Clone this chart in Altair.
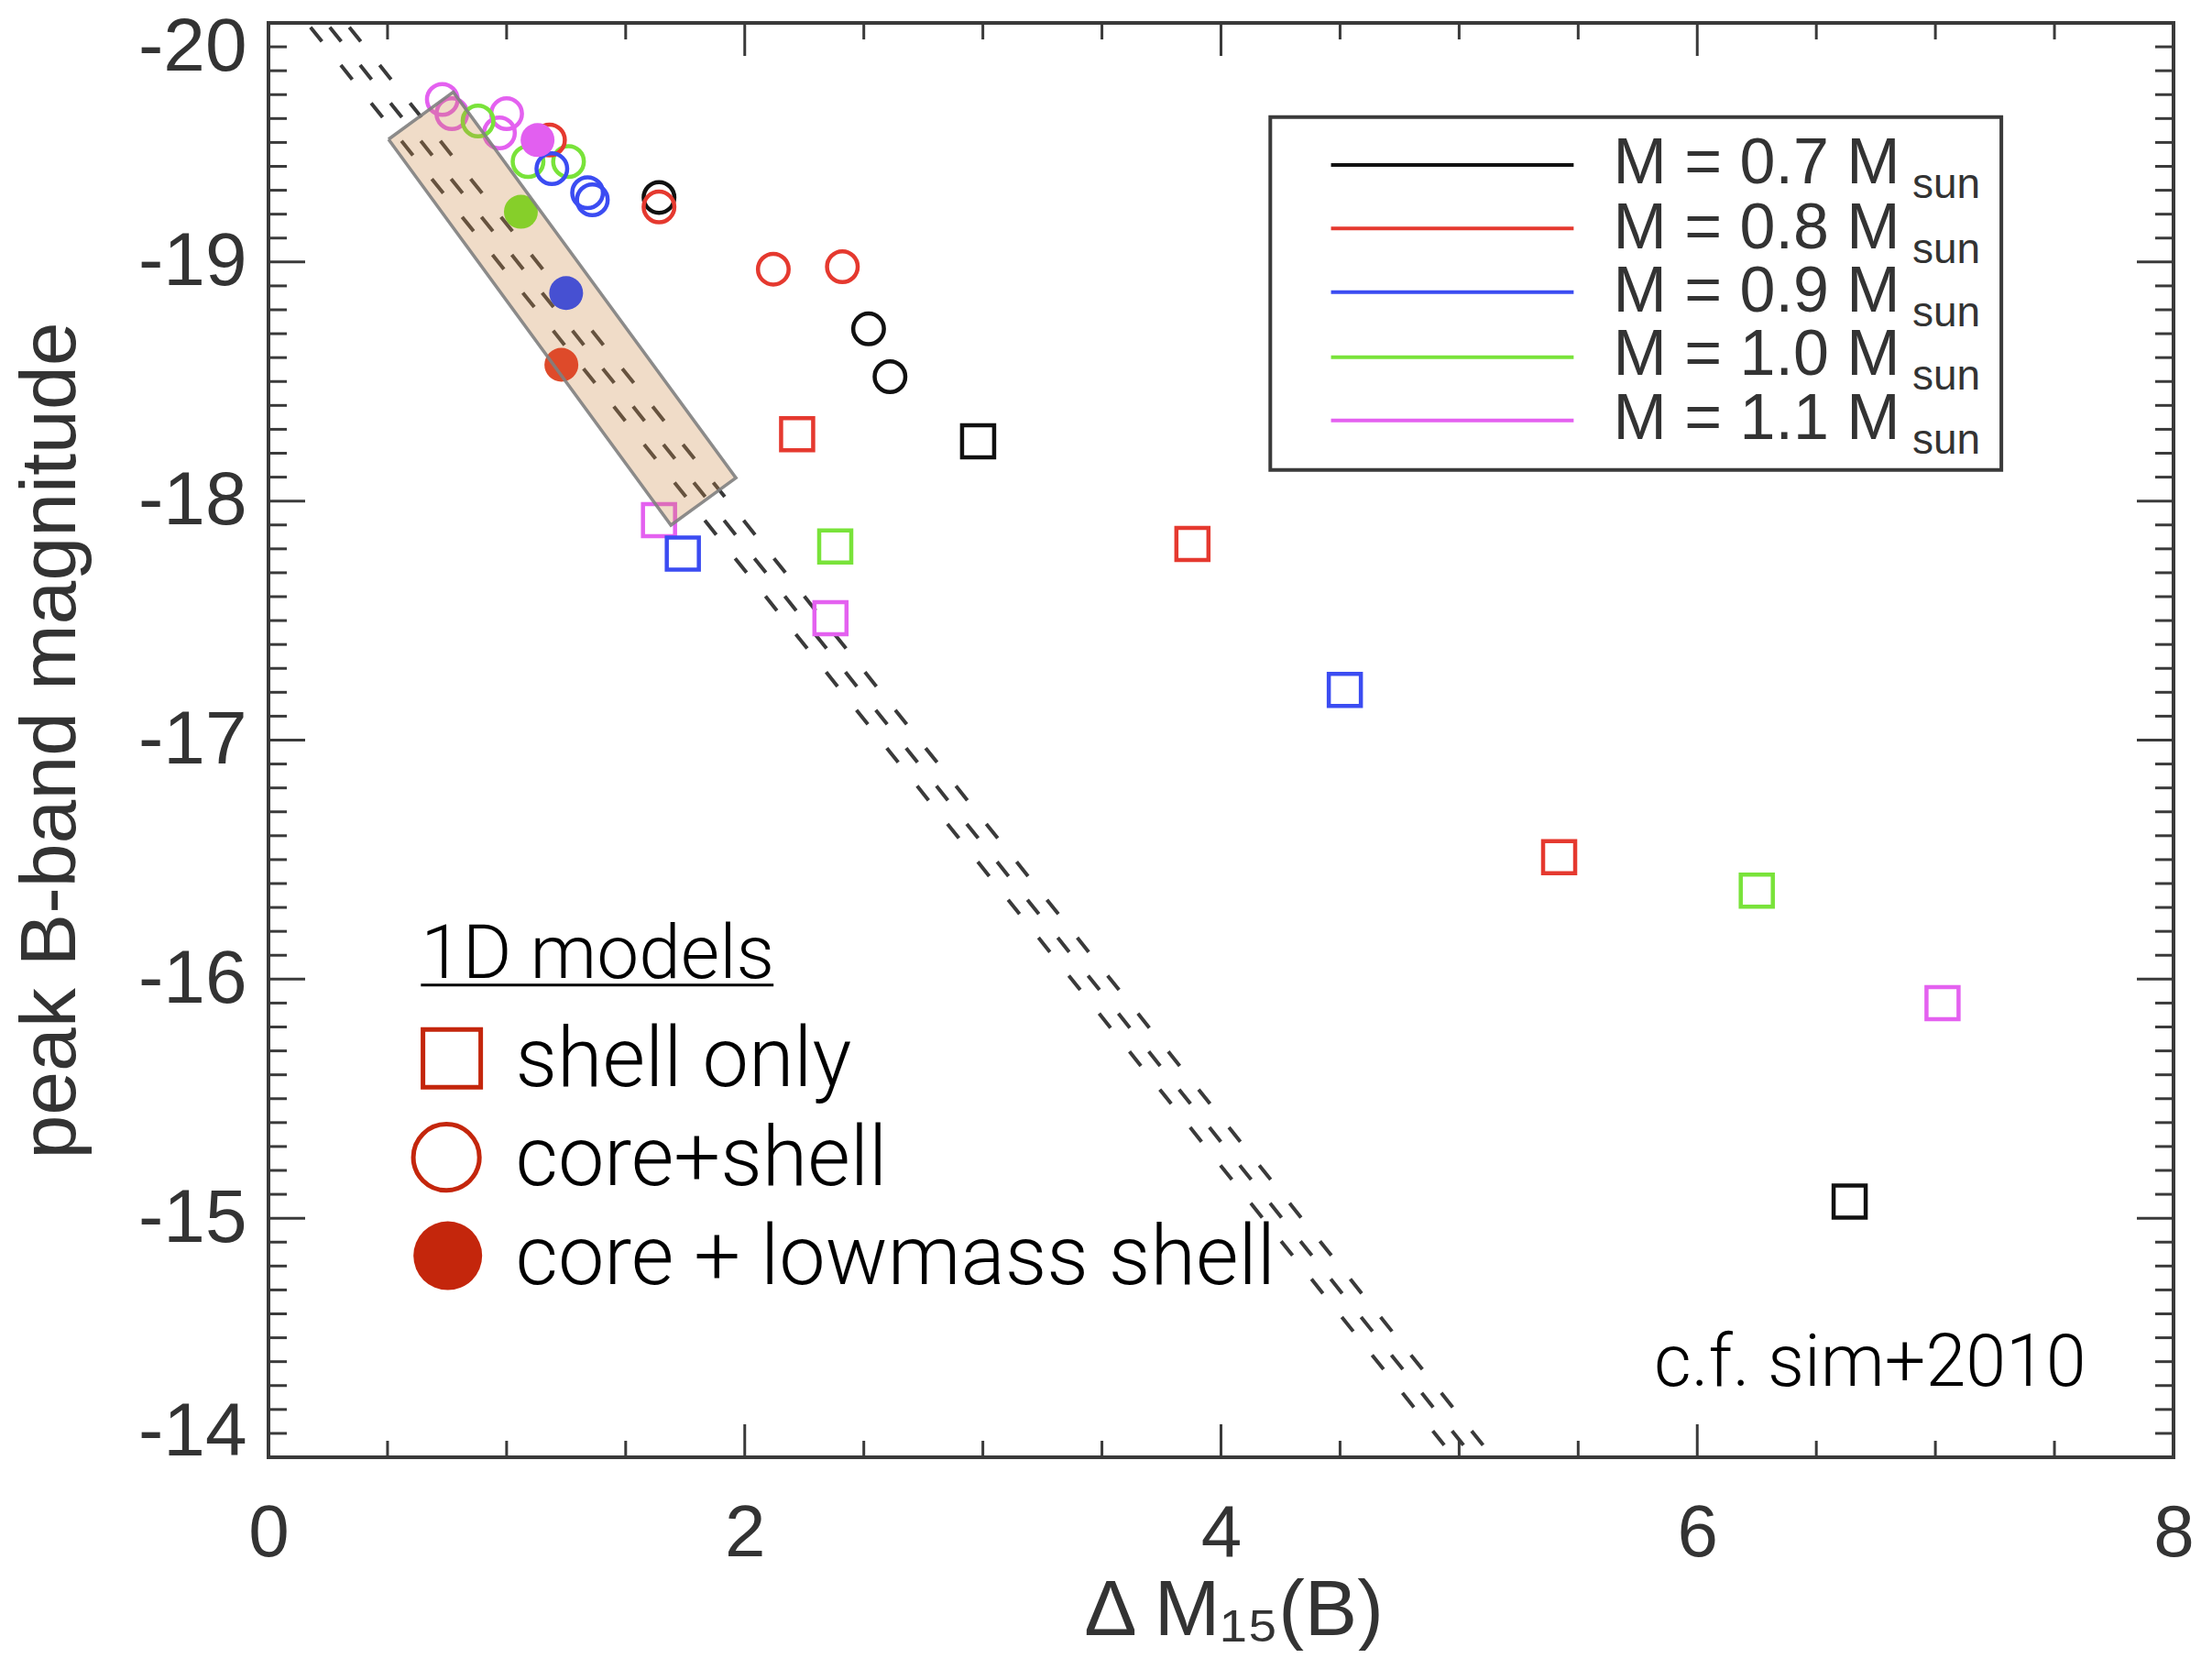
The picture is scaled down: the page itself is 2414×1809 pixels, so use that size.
import altair as alt
import pandas as pd

W, H = 2079, 1565

masses = ["0.7", "0.8", "0.9", "1.0", "1.1"]
mass_colors = ["#111111", "#e5392f", "#3b4cf2", "#79e33a", "#e461f0"]
mass_text = ["M = 0.7 M", "M = 0.8 M", "M = 0.9 M", "M = 1.0 M", "M = 1.1 M"]

# shell only models (open squares)
sq_mass = ["0.8", "0.7", "1.1", "0.9", "1.0", "1.1", "0.8", "0.9", "0.8", "1.0", "1.1", "0.7"]
sq_x = [2.22, 2.98, 1.64, 1.74, 2.38, 2.36, 3.88, 4.52, 5.42, 6.25, 7.03, 6.64]
sq_y = [-18.28, -18.25, -17.92, -17.78, -17.81, -17.51, -17.82, -17.21, -16.51, -16.37, -15.90, -15.07]

# core+shell models (open circles)
oc_mass = ["0.7", "0.7", "0.7", "1.1", "1.1", "1.1", "1.1", "1.0", "1.0", "1.0",
           "0.8", "0.8", "0.8", "0.8", "0.9", "0.9", "0.9"]
oc_x = [1.64, 2.52, 2.61, 0.73, 0.77, 1.00, 0.97, 0.88, 1.09, 1.26,
        1.18, 1.64, 2.12, 2.41, 1.19, 1.34, 1.36]
oc_y = [-19.27, -18.72, -18.52, -19.68, -19.62, -19.62, -19.54, -19.59, -19.42, -19.42,
        -19.51, -19.23, -18.97, -18.98, -19.39, -19.29, -19.26]

# core + lowmass shell models (filled circles)
fc_mass = ["1.1", "1.0", "0.9", "0.8"]
fc_x = [1.13, 1.06, 1.25, 1.23]
fc_y = [-19.51, -19.21, -18.87, -18.57]
fc_colors = ["#e25ff0", "#86cf2a", "#4650d2", "#de4a2a"]

# axis ticks
x_major = [0, 2, 4, 6, 8]
x_minor = [0.5, 1, 1.5, 2.5, 3, 3.5, 4.5, 5, 5.5, 6.5, 7, 7.5]
y_major = [-20, -19, -18, -17, -16, -15, -14]
y_minor = [round(-20 + i / 10, 1) for i in range(1, 60) if i % 10]

# Sim+2010 relation: three parallel dashed lines
band_x_top = [0.162, 0.243, 0.325]
band_x_bottom = [4.978, 5.059, 5.141]
band_y = [-20, -14]

# shaded observed region (rotated box)
reg_x = [0.504, 0.776, 1.690, 1.963]
reg_top = [-19.513, -19.711, -18.468, -18.097]
reg_bot = [-19.513, -19.143, -17.899, -18.097]
reg_outline_x = [0.504, 0.776, 1.963, 1.690, 0.504]
reg_outline_y = [-19.513, -19.711, -18.097, -17.899, -19.513]

# legend box (mass colours)
box_x = [4.207, 7.277]
box_y = [-19.606, -18.130]
leg_line_x = [4.462, 5.481]
leg_line_y = [-19.406, -19.140, -18.874, -18.602, -18.337]
leg_text_x = 5.647
leg_text_y = [-19.329, -19.057, -18.792, -18.526, -18.260]
leg_sub_x = 6.903

# 1D models legend
models_title = "1D models"
models_title_xy = (0.640, -16.005)
models_underline = ([0.640, 2.121], -15.975)
model_names = ["shell only", "core+shell", "core + lowmass shell"]
model_marker_x = [0.770, 0.747, 0.753]
model_marker_y = [-15.669, -15.255, -14.843]
model_text_x = 1.037
model_text_y = [-15.551, -15.137, -14.724]
model_color = "#c4260c"

note_text = "c.f. sim+2010"
note_xy = (5.818, -14.299)

xs = alt.Scale(domain=[0, 8], nice=False, zero=False)
ys = alt.Scale(domain=[-20, -14], reverse=True, nice=False, zero=False)
cs = alt.Scale(domain=masses, range=mass_colors)

x_axis = alt.Axis(values=x_major, labelExpr="'' + datum.value", ticks=False, domain=False, grid=False,
                  labelFlush=False,
                  labelFont="Liberation Sans", labelFontSize=80, labelColor="#333333", labelPadding=44,
                  title="Δ M₁₅(B)", titleFont="Liberation Sans", titleFontSize=86, titleFontWeight="normal",
                  titleColor="#333333", titleX=1053, titleY=193, titleBaseline="alphabetic", titleAlign="center")
y_axis = alt.Axis(values=y_major, labelExpr="'' + datum.value", ticks=False, domain=False, grid=False,
                  labelFont="Liberation Sans", labelFontSize=82, labelColor="#333333", labelPadding=24,
                  labelFlush=True, labelFlushOffset=14,
                  title="peak B-band magnitude", titleFont="Liberation Sans", titleFontSize=86,
                  titleFontWeight="normal", titleColor="#333333", titleX=-212, titleY=H / 2,
                  titleBaseline="alphabetic", titleAlign="center", titleAngle=270)

X = alt.X("x:Q", scale=xs, axis=x_axis)
Y = alt.Y("y:Q", scale=ys, axis=y_axis)

# dashed lines
band_rows = []
for i in range(3):
    band_rows.append({"x": band_x_top[i], "y": band_y[0], "id": i, "o": 0})
    band_rows.append({"x": band_x_bottom[i], "y": band_y[1], "id": i, "o": 1})
band = alt.Chart(pd.DataFrame(band_rows)).mark_line(
    color="#3a3a3a", strokeWidth=4, strokeDash=[20, 33], strokeDashOffset=-6, clip=True
).encode(x=X, y=Y, detail="id:N", order="o:Q")

sq_df = pd.DataFrame({"x": sq_x, "y": sq_y, "mass": sq_mass})
squares = alt.Chart(sq_df).mark_point(shape="square", filled=False, size=1225, strokeWidth=4.5, opacity=1).encode(
    x=X, y=Y, color=alt.Color("mass:N", scale=cs, legend=None))

oc_df = pd.DataFrame({"x": oc_x, "y": oc_y, "mass": oc_mass})
ocircles = alt.Chart(oc_df).mark_point(shape="circle", filled=False, size=1122, strokeWidth=4.5, opacity=1).encode(
    x=X, y=Y, color=alt.Color("mass:N", scale=cs, legend=None))

fc_df = pd.DataFrame({"x": fc_x, "y": fc_y, "mass": fc_mass, "c": fc_colors})
fcircles = alt.Chart(fc_df).mark_circle(size=1369, opacity=1).encode(
    x=X, y=Y, color=alt.Color("c:N", scale=None, legend=None))

reg_df = pd.DataFrame({"x": reg_x, "y": reg_top, "y2": reg_bot})
region = alt.Chart(reg_df).mark_area(color="#cd8a48", opacity=0.3).encode(x=X, y=Y, y2="y2:Q")
reg_out_df = pd.DataFrame({"x": reg_outline_x, "y": reg_outline_y, "o": list(range(5))})
region_outline = alt.Chart(reg_out_df).mark_line(color="#808080", strokeWidth=3.5, opacity=0.9).encode(
    x=X, y=Y, order="o:Q")

# legend box
box_df = pd.DataFrame({"x": [box_x[0]], "x2": [box_x[1]], "y": [box_y[0]], "y2": [box_y[1]]})
box = alt.Chart(box_df).mark_rect(fill="white", stroke="#3a3a3a", strokeWidth=4).encode(
    x=X, x2="x2:Q", y=Y, y2="y2:Q")
leg_df = pd.DataFrame({"x": [leg_line_x[0]] * 5, "x2": [leg_line_x[1]] * 5, "y": leg_line_y, "mass": masses})
leg_lines = alt.Chart(leg_df).mark_rule(strokeWidth=4).encode(
    x=X, x2="x2:Q", y=Y, color=alt.Color("mass:N", scale=cs, legend=None))
lt_df = pd.DataFrame({"x": [leg_text_x] * 5, "y": leg_text_y, "t": mass_text})
leg_text = alt.Chart(lt_df).mark_text(align="left", baseline="alphabetic", font="Liberation Sans",
                                      fontSize=70, color="#333333").encode(x=X, y=Y, text="t:N")
ls_df = pd.DataFrame({"x": [leg_sub_x] * 5, "y": [v + 0.06 for v in leg_text_y], "t": ["sun"] * 5})
leg_sub = alt.Chart(ls_df).mark_text(align="left", baseline="alphabetic", font="Liberation Sans",
                                     fontSize=46, color="#333333").encode(x=X, y=Y, text="t:N")

# 1D models legend
mt_df = pd.DataFrame({"x": [models_title_xy[0]], "y": [models_title_xy[1]], "t": [models_title]})
m_title = alt.Chart(mt_df).mark_text(align="left", baseline="alphabetic", font="Roboto", fontWeight=300,
                                     fontSize=82, color="black").encode(x=X, y=Y, text="t:N")
ul_df = pd.DataFrame({"x": [models_underline[0][0]], "x2": [models_underline[0][1]], "y": [models_underline[1]]})
m_ul = alt.Chart(ul_df).mark_rule(color="black", strokeWidth=3).encode(x=X, x2="x2:Q", y=Y)
m_sq = alt.Chart(pd.DataFrame({"x": [model_marker_x[0]], "y": [model_marker_y[0]]})).mark_point(
    shape="square", filled=False, size=3970, strokeWidth=5, color=model_color, opacity=1).encode(x=X, y=Y)
m_oc = alt.Chart(pd.DataFrame({"x": [model_marker_x[1]], "y": [model_marker_y[1]]})).mark_point(
    shape="circle", filled=False, size=5200, strokeWidth=5, color=model_color, opacity=1).encode(x=X, y=Y)
m_fc = alt.Chart(pd.DataFrame({"x": [model_marker_x[2]], "y": [model_marker_y[2]]})).mark_circle(
    size=5625, color=model_color, opacity=1).encode(x=X, y=Y)
mn_df = pd.DataFrame({"x": [model_text_x] * 3, "y": model_text_y, "t": model_names})
m_text = alt.Chart(mn_df).mark_text(align="left", baseline="alphabetic", font="Roboto", fontWeight=300,
                                    fontSize=90, color="black").encode(x=X, y=Y, text="t:N")

note = alt.Chart(pd.DataFrame({"x": [note_xy[0]], "y": [note_xy[1]], "t": [note_text]})).mark_text(
    align="left", baseline="alphabetic", font="Roboto", fontWeight=300, fontSize=79, color="black").encode(
    x=X, y=Y, text="t:N")

# inward ticks on all four sides
tick_color = "#3a3a3a"
def xticks(vals, length):
    d = pd.DataFrame({"x": vals})
    b = alt.Chart(d).mark_rule(color=tick_color, strokeWidth=3).encode(x=X, y=alt.value(H), y2=alt.value(H - length))
    t = alt.Chart(d).mark_rule(color=tick_color, strokeWidth=3).encode(x=X, y=alt.value(0), y2=alt.value(length))
    return [b, t]

def yticks(vals, length):
    d = pd.DataFrame({"y": vals})
    l = alt.Chart(d).mark_rule(color=tick_color, strokeWidth=3).encode(y=Y, x=alt.value(0), x2=alt.value(length))
    r = alt.Chart(d).mark_rule(color=tick_color, strokeWidth=3).encode(y=Y, x=alt.value(W), x2=alt.value(W - length))
    return [l, r]

ticks = xticks(x_major, 36) + xticks(x_minor, 18) + yticks(y_major, 40) + yticks(y_minor, 20)

chart = alt.layer(
    band, squares, ocircles, region, fcircles, region_outline,
    box, leg_lines, leg_text, leg_sub,
    m_title, m_ul, m_sq, m_oc, m_fc, m_text, note,
    *ticks
).properties(
    width=W, height=H,
    autosize=alt.AutoSizeParams(type="none"),
    padding={"left": 285, "top": 17, "right": 30, "bottom": 211},
    background="white",
).configure_view(stroke="#3a3a3a", strokeWidth=4)

chart.save("out.html", embed_options={"renderer": "svg", "actions": False})
